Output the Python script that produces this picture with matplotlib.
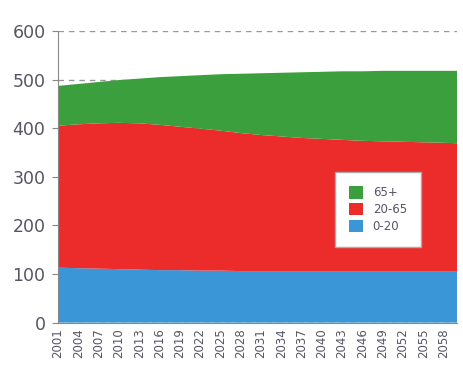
import matplotlib
matplotlib.use("Agg")
import matplotlib.pyplot as plt

years = [2001, 2004, 2007, 2010, 2013, 2016, 2019, 2022, 2025, 2028, 2031,
         2034, 2037, 2040, 2043, 2046, 2049, 2052, 2055, 2058, 2060]
age_0_20 = [113, 112, 111, 110, 109, 108, 108, 107, 107, 106, 106,
            106, 106, 106, 106, 106, 106, 106, 106, 106, 106]
age_20_65 = [292, 296, 299, 301, 301, 299, 295, 292, 288, 284, 280,
             277, 274, 272, 270, 268, 267, 266, 265, 264, 263]
age_65_plus = [82, 83, 85, 88, 92, 98, 104, 110, 116, 122, 127,
               131, 135, 138, 141, 143, 145, 146, 147, 148, 149]
labels = ["0-20", "20-65", "65+"]
colors = ["#3a96d6", "#ec2b2b", "#3b9f3e"]
tick_years = list(range(2001, 2059, 3))

fig = plt.figure(figsize=(4.64, 3.92), dpi=100)
ax = fig.add_axes([0.125, 0.177, 0.86, 0.744])

ax.set_axisbelow(True)
ax.yaxis.grid(True, linestyle=(0, (4, 3.5)), color="#999999", linewidth=1)
polys = ax.stackplot(years, age_0_20, age_20_65, age_65_plus,
                     colors=colors, labels=labels, linewidth=0)

ax.set_xlim(2001, 2060)
ax.set_ylim(0, 600)
ax.set_yticks([0, 100, 200, 300, 400, 500, 600])
ax.set_xticks(tick_years)
ax.set_xticklabels([str(y) for y in tick_years], rotation=90)

ax.spines["top"].set_visible(False)
ax.spines["right"].set_visible(False)
ax.spines["left"].set_color("#888888")
ax.spines["bottom"].set_color("#888888")
ax.tick_params(axis="y", labelsize=12.5, colors="#888888", labelcolor="#555565",
               length=4, pad=5)
ax.tick_params(axis="x", labelsize=8.5, colors="#888888", labelcolor="#555565",
               length=0, pad=4)

handles, lbls = ax.get_legend_handles_labels()
leg = ax.legend(handles[::-1], lbls[::-1], loc="lower left",
                bbox_to_anchor=(0.694, 0.26), fontsize=8.5, frameon=True,
                fancybox=False, edgecolor="#aaaaaa", framealpha=1,
                handlelength=1.2, handleheight=1.2, labelspacing=0.3,
                borderpad=1.2, handletextpad=0.8, borderaxespad=0)
leg.get_frame().set_linewidth(1)
for t in leg.get_texts():
    t.set_color("#555565")

fig.savefig("out.png", dpi=100)
